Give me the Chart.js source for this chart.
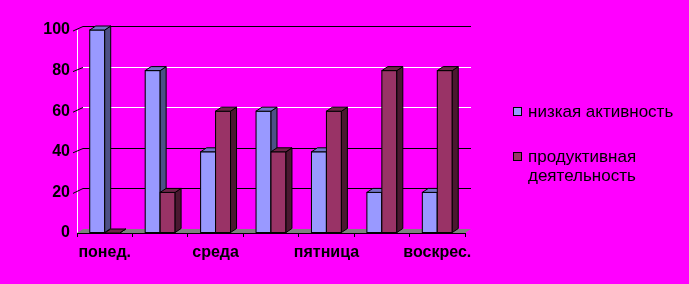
<!DOCTYPE html>
<html>
<head>
<meta charset="utf-8">
<script src="https://cdn.jsdelivr.net/npm/chart.js@4"></script>
<style>
    html, body { margin: 0; padding: 0; background: #FF00FF; }
    #wrap { position: relative; width: 689px; height: 284px; background: #FF00FF; }
    .legendItem { position: absolute; font: 17px "Liberation Sans", Arial, sans-serif; color: #000; line-height: 19px; white-space: nowrap; }
    .legendBox { position: absolute; width: 9px; height: 9px; border: 1px solid #000; box-sizing: border-box; }
</style>
</head>
<body>
<div id="wrap">
    <canvas id="activityChart" width="689" height="284"></canvas>
</div>
<script>

const dayLabels = ["понед.", "вторник", "среда", "четверг", "пятница", "суббота", "воскрес."];

const lowActivity = [100, 80, 40, 60, 40, 20, 20];

const productiveActivity = [0, 20, 60, 40, 60, 80, 80];

const yTicks = [0, 20, 40, 60, 80, 100];

const seriesNames = ["низкая активность", "продуктивная\nдеятельность"];


const depthX = 6;
const depthY = -4;

const faceColors = [
    { front: "#9999FF", top: "#7373C8", side: "#4D5086" },
    { front: "#993366", top: "#6E2449", side: "#4A1830" }
];

const gridColors = { 20: "#000000", 40: "#000000", 60: "#FFFFFF", 80: "#FFFFFF", 100: "#000000" };


const drawBarBox = (ctx, bar, colors) => {

    const left = bar.x - bar.width / 2;
    const right = bar.x + bar.width / 2;
    const top = Math.min(bar.y, bar.base);
    const bottom = Math.max(bar.y, bar.base);

    ctx.lineWidth = 1;
    ctx.strokeStyle = "#000";

    ctx.fillStyle = colors.front;
    ctx.fillRect(left, top, right - left, bottom - top);
    ctx.strokeRect(left, top, right - left, bottom - top);

    ctx.beginPath();
    ctx.moveTo(right, top);
    ctx.lineTo(right + depthX, top + depthY);
    ctx.lineTo(right + depthX, bottom + depthY);
    ctx.lineTo(right, bottom);
    ctx.closePath();
    ctx.fillStyle = colors.side;
    ctx.fill();
    ctx.stroke();

    ctx.beginPath();
    ctx.moveTo(left, top);
    ctx.lineTo(left + depthX, top + depthY);
    ctx.lineTo(right + depthX, top + depthY);
    ctx.lineTo(right, top);
    ctx.closePath();
    ctx.fillStyle = colors.top;
    ctx.fill();
    ctx.stroke();

};


const threeDPlugin = {

    id: "threeD",

    beforeDatasetsDraw(chart) {

        const ctx = chart.ctx;
        const area = chart.chartArea;
        const yScale = chart.scales.y;

        ctx.save();

        // back wall grid lines
        for (const value of yTicks) {
            if (value === 0) continue;
            const y = Math.round(yScale.getPixelForValue(value) + depthY) + 0.5;
            ctx.strokeStyle = gridColors[value];
            ctx.lineWidth = 1;
            ctx.beginPath();
            ctx.moveTo(area.left + depthX, y);
            ctx.lineTo(area.right + depthX, y);
            ctx.stroke();
            ctx.strokeStyle = "#000";
            ctx.beginPath();
            ctx.moveTo(area.left - 4, yScale.getPixelForValue(value) + 1);
            ctx.lineTo(area.left + depthX, y);
            ctx.stroke();
        }

        // floor
        const base = yScale.getPixelForValue(0);
        ctx.beginPath();
        ctx.moveTo(area.left, base);
        ctx.lineTo(area.left + depthX, base + depthY);
        ctx.lineTo(area.right + depthX, base + depthY);
        ctx.lineTo(area.right, base);
        ctx.closePath();
        ctx.fillStyle = "#808080";
        ctx.fill();

        ctx.strokeStyle = "#000";
        ctx.beginPath();
        ctx.moveTo(area.left, Math.round(base) + 0.5);
        ctx.lineTo(area.right, Math.round(base) + 0.5);
        ctx.stroke();

        ctx.restore();

    },

    afterDatasetsDraw(chart) {

        const ctx = chart.ctx;
        const metas = chart.data.datasets.map((dataset, index) => chart.getDatasetMeta(index));

        ctx.save();

        for (let i = 0; i < dayLabels.length; i++) {
            metas.forEach((meta, datasetIndex) => {
                drawBarBox(ctx, meta.data[i], faceColors[datasetIndex]);
            });
        }

        ctx.restore();

    }

};


const activityChart = document.getElementById("activityChart");

new Chart(
    activityChart, {
        type: "bar",
        data: {
            labels: dayLabels,
            datasets: [
                {
                    label: seriesNames[0],
                    data: lowActivity,
                    backgroundColor: faceColors[0].front,
                    borderColor: "#000",
                    borderWidth: 1,
                    categoryPercentage: 0.54,
                    barPercentage: 1
                },
                {
                    label: seriesNames[1],
                    data: productiveActivity,
                    backgroundColor: faceColors[1].front,
                    borderColor: "#000",
                    borderWidth: 1,
                    categoryPercentage: 0.54,
                    barPercentage: 1
                }
            ]
        },
        options: {
            responsive: false,
            animation: false,
            layout: {
                padding: { left: 0, top: 30, right: 224, bottom: 0 }
            },
            plugins: {
                legend: { display: false },
                tooltip: { enabled: false }
            },
            scales: {
                x: {
                    afterFit: (scale) => { scale.height = 51; },
                    grid: {
                        display: true,
                        drawOnChartArea: false,
                        drawTicks: true,
                        tickLength: 4,
                        color: "#000"
                    },
                    border: { display: true, color: "#000" },
                    ticks: {
                        autoSkip: false,
                        maxRotation: 0,
                        padding: 6,
                        color: "#000",
                        font: { family: "'Liberation Sans', Arial, sans-serif", size: 16, weight: "bold" },
                        callback: (value, index) => index % 2 === 0 ? dayLabels[index] : ""
                    }
                },
                y: {
                    min: 0,
                    max: 100,
                    afterFit: (scale) => { scale.width = 77; },
                    afterBuildTicks: (scale) => { scale.ticks = yTicks.map((value) => ({ value })); },
                    grid: {
                        display: true,
                        drawOnChartArea: false,
                        drawTicks: true,
                        tickLength: 5,
                        color: "rgba(0,0,0,0)"
                    },
                    border: { display: true, color: "#FFFFFF" },
                    ticks: {
                        padding: 2,
                        color: "#000",
                        font: { family: "'Liberation Sans', Arial, sans-serif", size: 16, weight: "bold" }
                    }
                }
            }
        },
        plugins: [threeDPlugin]
    }
);


// legend on the right
const legendSpots = [
    { box: [513, 107], text: [528, 102] },
    { box: [513, 152], text: [528, 147] }
];

const wrap = document.getElementById("wrap");

seriesNames.forEach((name, index) => {

    const box = document.createElement("div");
    box.className = "legendBox";
    box.style.left = `${legendSpots[index].box[0]}px`;
    box.style.top = `${legendSpots[index].box[1]}px`;
    box.style.background = faceColors[index].front;
    wrap.appendChild(box);

    const text = document.createElement("div");
    text.className = "legendItem";
    text.style.left = `${legendSpots[index].text[0]}px`;
    text.style.top = `${legendSpots[index].text[1]}px`;
    text.innerHTML = name.split("\n").join("<br>");
    wrap.appendChild(text);

});

</script>
</body>
</html>
